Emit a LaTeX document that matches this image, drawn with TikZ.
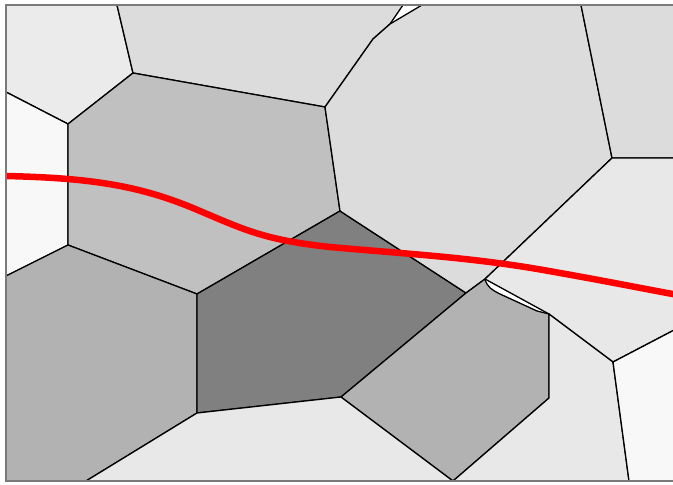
\documentclass[tikz,border=0pt]{standalone}
\usepackage{xcolor}
\usepackage{tikz}

\definecolor{cellA}{HTML}{EBEBEB}
\definecolor{cellB}{HTML}{DCDCDC}
\definecolor{cellC}{HTML}{C0C0C0}
\definecolor{cellD}{HTML}{808080}
\definecolor{cellE}{HTML}{B2B2B2}
\definecolor{cellF}{HTML}{E8E8E8}
\definecolor{cellG}{HTML}{F8F8F8}
\definecolor{framegray}{HTML}{7A7A7A}

\begin{document}
\begin{tikzpicture}[
  x=1pt, y=-1pt,
  cell/.style={draw=black, line width=1.3pt, line join=round},
  frameline/.style={draw=framegray, line width=2.2pt},
  route/.style={draw=red, line width=6.5pt, line cap=butt}
]
\useasboundingbox (0,0) rectangle (673,485);
\fill[white] (0,0) rectangle (673,485);

% vertices
\coordinate (A) at (117,5);
\coordinate (B) at (133,73);
\coordinate (C) at (68,124);
\coordinate (D) at (6,92);
\coordinate (N) at (68,245);
\coordinate (Lw) at (6,276);
\coordinate (L) at (197,294);
\coordinate (K) at (197,413);
\coordinate (Bl) at (86,481);
\coordinate (E) at (325,107);
\coordinate (E1) at (373,39);
\coordinate (E2) at (390,24);
\coordinate (Ta) at (403,5);
\coordinate (Tb) at (422,5);
\coordinate (Tc) at (581,5);
\coordinate (G) at (612,158);
\coordinate (Rg1) at (678,158);
\coordinate (Rg2) at (678,328);
\coordinate (F) at (340,211);
\coordinate (I) at (466,293);
\coordinate (H) at (485,279);
\coordinate (P) at (549,314);
\coordinate (Q) at (549,398);
\coordinate (J) at (341,397);
\coordinate (R) at (453,481);
\coordinate (S) at (613,362);
\coordinate (T) at (629,481);

% cells
\filldraw[cell, fill=cellA] (6,5) -- (A) -- (B) -- (C) -- (D) -- cycle;
\filldraw[cell, fill=cellG] (D) -- (C) -- (N) -- (Lw) -- cycle;
\filldraw[cell, fill=cellB] (A) -- (Ta) -- (E2) -- (E1) -- (E) -- (B) -- cycle;
\filldraw[cell, fill=cellC] (B) -- (E) -- (F) -- (L) -- (N) -- (C) -- cycle;
\filldraw[cell, fill=cellE] (Lw) -- (N) -- (L) -- (K) -- (Bl) -- (6,481) -- cycle;
\filldraw[cell, fill=cellD] (F) -- (I) -- (J) -- (K) -- (L) -- cycle;
\filldraw[cell, fill=cellB] (E) -- (E1) -- (E2) -- (Tb) -- (Tc) -- (G) -- (H) -- (I) -- (F) -- cycle;
\filldraw[cell, fill=cellB] (Tc) -- (678,5) -- (Rg1) -- (G) -- cycle;
\filldraw[cell, fill=cellF] (G) -- (Rg1) -- (Rg2) -- (S) -- (P) -- (H) -- cycle;
\filldraw[cell, fill=cellE] (I) -- (H) .. controls (487,287) and (492,290) .. (500,294)
  -- (537,311) -- (P) -- (Q) -- (R) -- (J) -- cycle;
\filldraw[cell, fill=cellF] (K) -- (J) -- (R) -- (Bl) -- cycle;
\filldraw[cell, fill=cellF] (Q) -- (P) -- (S) -- (T) -- (R) -- cycle;
\filldraw[cell, fill=cellG] (S) -- (Rg2) -- (678,481) -- (T) -- cycle;

% path
\draw[route] (6,176) .. controls (90,178) and (140,185) .. (200,211)
  .. controls (245,230) and (265,240) .. (330,247)
  .. controls (420,255) and (480,258) .. (560,273)
  .. controls (600,280) and (640,288) .. (678,295);

% frame
\draw[frameline] (678,5) -- (6,5) -- (6,481) -- (678,481);
\end{tikzpicture}
\end{document}
